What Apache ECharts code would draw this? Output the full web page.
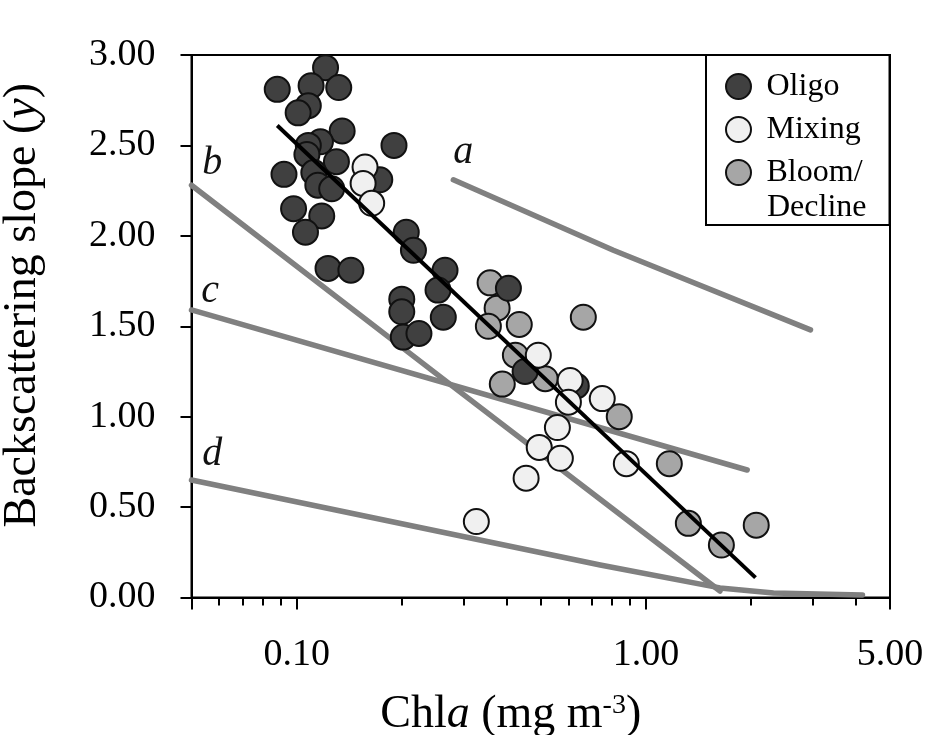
<!DOCTYPE html>
<html>
<head>
<meta charset="utf-8">
<script src="https://cdn.jsdelivr.net/npm/echarts@6/dist/echarts.min.js"></script>
<style>
  html, body { margin: 0; padding: 0; background: #fff; }
  #chart { width: 930px; height: 735px; }
</style>
</head>
<body>
<div id="chart"></div>
<script>
// Chl a (mg m-3) vs backscattering slope (gamma), by season
const oligo = [
  [0.088, 2.81], [0.121, 2.93], [0.110, 2.83], [0.132, 2.82], [0.108, 2.72],
  [0.101, 2.68], [0.135, 2.58], [0.117, 2.52], [0.108, 2.50], [0.107, 2.45],
  [0.130, 2.41], [0.092, 2.34], [0.112, 2.35], [0.115, 2.28], [0.126, 2.26],
  [0.190, 2.50], [0.173, 2.31], [0.098, 2.15], [0.118, 2.11], [0.106, 2.02],
  [0.206, 2.02], [0.216, 1.92], [0.123, 1.82], [0.143, 1.81], [0.266, 1.81],
  [0.254, 1.70], [0.200, 1.65], [0.200, 1.58], [0.202, 1.44], [0.224, 1.46],
  [0.263, 1.55], [0.404, 1.71], [0.451, 1.25], [0.632, 1.17]
];
const mixing = [
  [0.157, 2.38], [0.155, 2.29], [0.164, 2.18], [0.492, 1.34], [0.607, 1.20],
  [0.600, 1.08], [0.750, 1.10], [0.558, 0.94], [0.495, 0.83], [0.569, 0.77],
  [0.879, 0.74], [0.454, 0.66], [0.327, 0.42]
];
const bloom = [
  [0.358, 1.74], [0.375, 1.60], [0.354, 1.50], [0.434, 1.51], [0.662, 1.55],
  [0.423, 1.34], [0.515, 1.21], [0.388, 1.18], [0.839, 1.00], [1.167, 0.74],
  [1.323, 0.41], [1.645, 0.29], [2.07, 0.40]
];

// Regression fit through all points
const fitLine = [[0.088, 2.61], [2.06, 0.11]];

// Reference relationships a-d
const curveA = [[0.281, 2.31], [0.807, 1.92], [2.96, 1.48]];
const curveB = [[0.05, 2.28], [0.258, 1.22], [1.63, 0.036]];
const curveC = [[0.05, 1.59], [1.95, 0.705]];
const curveD = [[0.05, 0.65], [0.74, 0.18], [1.63, 0.053], [2.32, 0.025], [4.17, 0.014]];
const curveTags = [['a', 0.300, 2.46], ['b', 0.0573, 2.40], ['c', 0.0565, 1.69], ['d', 0.0573, 0.79]];

// Axis ticks
const xMajorTicks = [0.05, 0.1, 1, 5];
const xLabelValues = [0.1, 1, 5];
const xMinorTicks = [0.06, 0.07, 0.08, 0.09, 0.2, 0.3, 0.4, 0.5, 0.6, 0.7, 0.8, 0.9, 2, 3, 4];
const yMin = 0, yMax = 3, yStep = 0.5;

const FONT = 'Liberation Serif';
const GRAY = '#808080';
const BORDER = '#111';

const chart = echarts.init(document.getElementById('chart'), null, { renderer: 'canvas' });

function curveSeries(data) {
  return {
    type: 'line', data: data, xAxisIndex: 0, yAxisIndex: 0,
    showSymbol: false, symbol: 'none', silent: true, z: 1,
    lineStyle: { color: GRAY, width: 5.5, cap: 'round', join: 'round' }
  };
}
function pointSeries(name, data, fill) {
  return {
    type: 'scatter', name: name, data: data, xAxisIndex: 0, yAxisIndex: 0,
    symbol: 'circle', symbolSize: 25, z: 2,
    itemStyle: { color: fill, borderColor: BORDER, borderWidth: 2, opacity: 1 }
  };
}

const option = {
  animation: false,
  backgroundColor: '#fff',
  grid: {
    left: 191.5, top: 55, right: 40, bottom: 137.5,
    show: true, borderColor: '#000', borderWidth: 2, backgroundColor: 'transparent',
    containLabel: false, outerBoundsMode: 'none'
  },
  xAxis: [
    {
      type: 'log', logBase: 10, min: 0.05, max: 5, position: 'bottom',
      axisLine: { show: true, lineStyle: { color: '#000', width: 2 } },
      axisTick: { show: true, length: 12, lineStyle: { color: '#000', width: 2 }, customValues: xMajorTicks },
      minorTick: { show: false },
      axisLabel: {
        show: true, customValues: xLabelValues, margin: 39,
        formatter: v => Number(v).toFixed(2),
        fontFamily: FONT, fontSize: 38, color: '#000'
      },
      splitLine: { show: false },
      name: '{r|Chl}{i|a}{r| (mg m}{s|-3}{r|)}',
      nameLocation: 'middle', nameGap: 94,
      nameTextStyle: {
        padding: [0, 60, 0, 0],
        rich: {
          r: { fontFamily: FONT, fontSize: 46, lineHeight: 46, color: '#000' },
          i: { fontFamily: FONT, fontSize: 46, lineHeight: 46, fontStyle: 'italic', color: '#000' },
          s: { fontFamily: FONT, fontSize: 28, lineHeight: 28, verticalAlign: 'top', color: '#000' }
        }
      }
    },
    {
      type: 'log', logBase: 10, min: 0.05, max: 5, position: 'bottom', offset: 0,
      axisLine: { show: false },
      axisTick: { show: true, length: 8, lineStyle: { color: '#000', width: 2 }, customValues: xMinorTicks },
      axisLabel: { show: false },
      splitLine: { show: false }
    }
  ],
  yAxis: {
    type: 'value', min: yMin, max: yMax, interval: yStep,
    axisLine: { show: true, lineStyle: { color: '#000', width: 2 } },
    axisTick: { show: true, length: 11, lineStyle: { color: '#000', width: 2 } },
    axisLabel: {
      margin: 36, formatter: v => Number(v).toFixed(2),
      fontFamily: FONT, fontSize: 38, color: '#000'
    },
    splitLine: { show: false },
    name: '{r|Backscattering slope (}{i|y}{r|)}',
    nameLocation: 'middle', nameRotate: 90, nameGap: 146,
    nameTextStyle: {
      padding: [0, 0, 0, 42],
      rich: {
        r: { fontFamily: FONT, fontSize: 46, lineHeight: 46, color: '#000' },
        i: { fontFamily: FONT, fontSize: 46, lineHeight: 46, fontStyle: 'italic', color: '#000' }
      }
    }
  },
  legend: {
    data: ['Oligo', 'Mixing', 'Bloom/Decline'],
    orient: 'vertical', left: 706, top: 55,
    icon: 'circle', itemWidth: 46, itemHeight: 25, itemGap: 8,
    padding: [14, 27, 35, 19],
    backgroundColor: '#fff', borderColor: '#000', borderWidth: 2, borderRadius: 0,
    selectedMode: false,
    formatter: name => (name === 'Bloom/Decline' ? 'Bloom/' : name),
    textStyle: { fontFamily: FONT, fontSize: 32, lineHeight: 35, color: '#000' }
  },
  graphic: [
    {
      type: 'text', x: 767, y: 207.5, z: 100,
      style: { text: 'Decline', font: '32px "Liberation Serif"', fill: '#000', verticalAlign: 'middle', align: 'left' }
    }
  ],
  series: [
    curveSeries(curveA),
    curveSeries(curveB),
    curveSeries(curveC),
    curveSeries(curveD),
    pointSeries('Bloom/Decline', bloom, '#a6a6a6'),
    pointSeries('Oligo', oligo, '#404040'),
    pointSeries('Mixing', mixing, '#f0f0f0'),
    {
      type: 'line', data: fitLine, showSymbol: false, symbol: 'none', silent: true, z: 3,
      lineStyle: { color: '#000', width: 4 }
    },
    {
      type: 'scatter', silent: true, z: 3,
      data: curveTags.map(t => ({ name: t[0], value: [t[1], t[2]] })),
      symbolSize: 1, itemStyle: { color: 'rgba(0,0,0,0)', opacity: 1 },
      label: {
        show: true, position: 'inside', formatter: '{b}',
        fontFamily: FONT, fontSize: 40, fontStyle: 'italic', color: '#111', opacity: 1
      }
    }
  ]
};

chart.setOption(option);
</script>
</body>
</html>
